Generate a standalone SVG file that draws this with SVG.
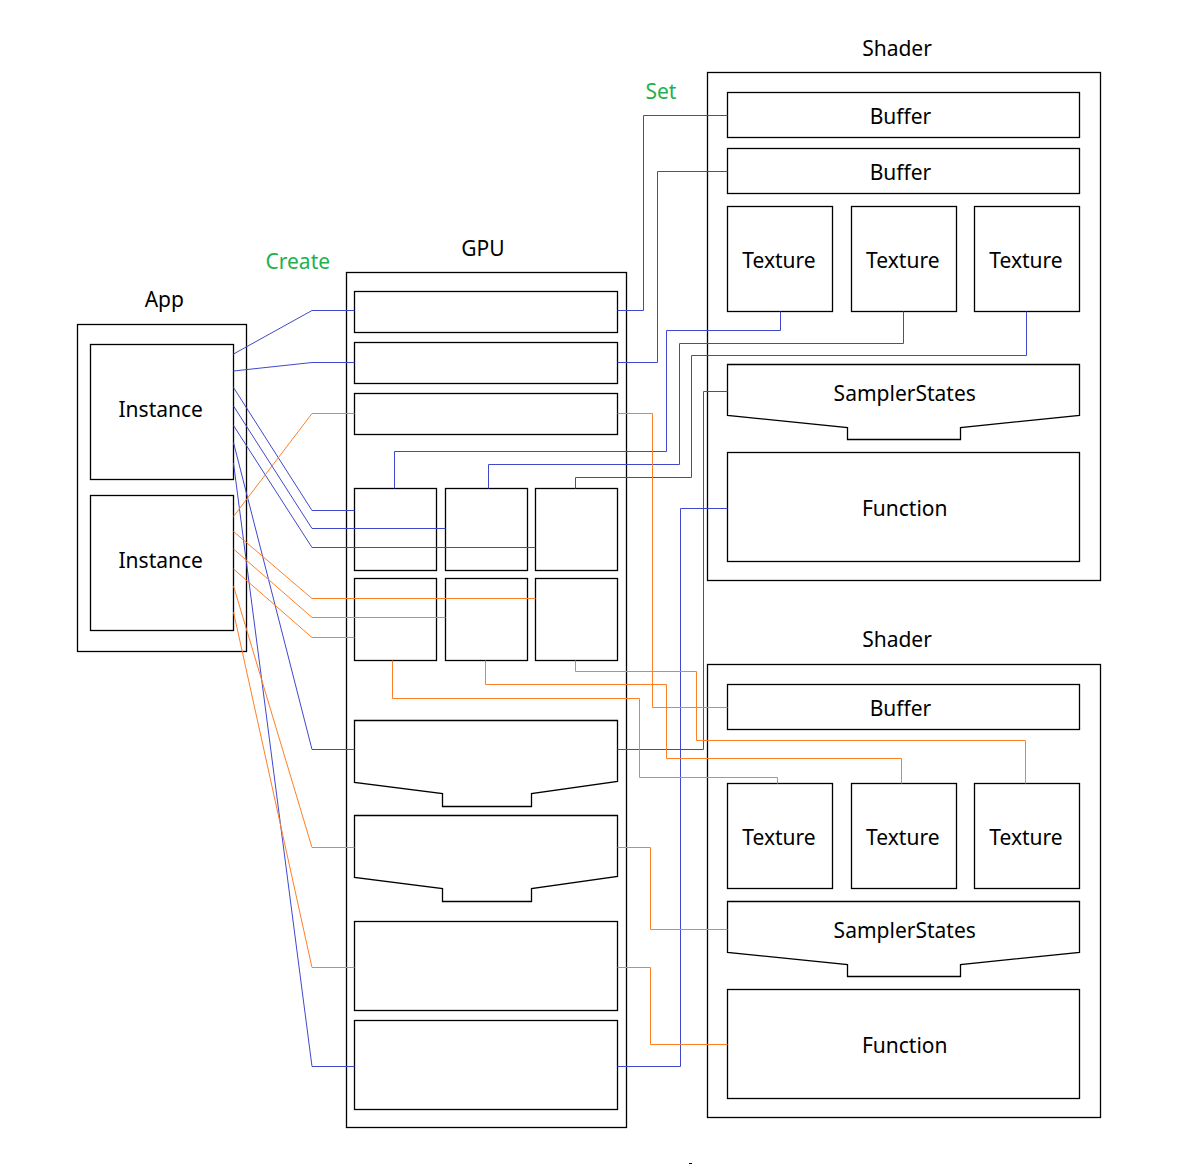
<svg xmlns="http://www.w3.org/2000/svg" width="1191" height="1173" viewBox="0 0 1191 1173">
<style>
.box{fill:#fff;stroke:#000;stroke-width:1.3}
.cont{fill:none;stroke:#000;stroke-width:1.3}
.t{font-family:"Noto Sans","Liberation Sans",sans-serif;font-size:21px;fill:#000;text-anchor:middle}
.g{font-family:"Noto Sans","Liberation Sans",sans-serif;font-size:21px;fill:#22b14c}
.b{fill:none;stroke:#3f48cc;stroke-width:1}
.o{fill:none;stroke:#ff7f27;stroke-width:1}
</style>
<rect width="1191" height="1173" fill="#fff"/>
<g id="labels">
<text class="g" x="265.5" y="269">Create</text>
<text class="g" x="645.5" y="99">Set</text>
</g>
<g id="app">
<text class="t" x="164.3" y="306.5">App</text>
<rect class="cont" x="77.5" y="324.5" width="169" height="327"/>
</g>
<g id="instance1"><rect class="box" x="90.5" y="344.5" width="143" height="135"/><text class="t" x="160.7" y="417.3">Instance</text></g>
<g id="instance2"><rect class="box" x="90.5" y="495.5" width="143" height="135"/><text class="t" x="160.7" y="568">Instance</text></g>
<g id="gpu">
<text class="t" x="483" y="255.5">GPU</text>
<rect class="cont" x="346.5" y="272.5" width="280" height="855"/>
</g>
<g id="gpu-b1"><rect class="box" x="354.5" y="291.5" width="263" height="41"/></g>
<g id="gpu-b2"><rect class="box" x="354.5" y="342.5" width="263" height="41"/></g>
<g id="gpu-b3"><rect class="box" x="354.5" y="393.5" width="263" height="41"/></g>
<g id="gpu-t1"><rect class="box" x="354.5" y="488.5" width="82" height="82"/></g>
<g id="gpu-t2"><rect class="box" x="445.5" y="488.5" width="82" height="82"/></g>
<g id="gpu-t3"><rect class="box" x="535.5" y="488.5" width="82" height="82"/></g>
<g id="gpu-t4"><rect class="box" x="354.5" y="578.5" width="82" height="82"/></g>
<g id="gpu-t5"><rect class="box" x="445.5" y="578.5" width="82" height="82"/></g>
<g id="gpu-t6"><rect class="box" x="535.5" y="578.5" width="82" height="82"/></g>
<g id="gpu-s1"><path class="box" d="M354.5,720.5 H617.5 V781.5 L531.5,793.5 V806.5 H442.5 V793.5 L354.5,782.5 Z"/></g>
<g id="gpu-s2"><path class="box" d="M354.5,815.5 H617.5 V876.5 L531.5,888.5 V901.5 H442.5 V888.5 L354.5,877.5 Z"/></g>
<g id="gpu-f1"><rect class="box" x="354.5" y="921.5" width="263" height="89"/></g>
<g id="gpu-f2"><rect class="box" x="354.5" y="1020.5" width="263" height="89"/></g>
<g id="shader1">
<text class="t" x="897" y="56">Shader</text>
<rect class="cont" x="707.5" y="72.5" width="393" height="508"/>
</g>
<g id="s1-buffer1"><rect class="box" x="727.5" y="92.5" width="352" height="45"/><text class="t" x="900.5" y="124">Buffer</text></g>
<g id="s1-buffer2"><rect class="box" x="727.5" y="148.5" width="352" height="45"/><text class="t" x="900.5" y="180">Buffer</text></g>
<g id="s1-tex1"><rect class="box" x="727.5" y="206.5" width="105" height="105"/><text class="t" x="779" y="267.5">Texture</text></g>
<g id="s1-tex2"><rect class="box" x="851.5" y="206.5" width="105" height="105"/><text class="t" x="902.8" y="267.5">Texture</text></g>
<g id="s1-tex3"><rect class="box" x="974.5" y="206.5" width="105" height="105"/><text class="t" x="1026" y="267.5">Texture</text></g>
<g id="s1-sampler"><path class="box" d="M727.5,364.5 H1079.5 V415.5 L960.5,427.5 V439.5 H847.5 V427.5 L727.5,415.5 Z"/><text class="t" x="904.7" y="401">SamplerStates</text></g>
<g id="s1-function"><rect class="box" x="727.5" y="452.5" width="352" height="109"/><text class="t" x="904.7" y="515.5">Function</text></g>
<g id="shader2">
<text class="t" x="897" y="647">Shader</text>
<rect class="cont" x="707.5" y="664.5" width="393" height="453"/>
</g>
<g id="s2-buffer"><rect class="box" x="727.5" y="684.5" width="352" height="45"/><text class="t" x="900.5" y="716">Buffer</text></g>
<g id="s2-tex1"><rect class="box" x="727.5" y="783.5" width="105" height="105"/><text class="t" x="779" y="844.5">Texture</text></g>
<g id="s2-tex2"><rect class="box" x="851.5" y="783.5" width="105" height="105"/><text class="t" x="902.8" y="844.5">Texture</text></g>
<g id="s2-tex3"><rect class="box" x="974.5" y="783.5" width="105" height="105"/><text class="t" x="1026" y="844.5">Texture</text></g>
<g id="s2-sampler"><path class="box" d="M727.5,901.5 H1079.5 V952.5 L960.5,964.5 V976.5 H847.5 V964.5 L727.5,952.5 Z"/><text class="t" x="904.7" y="937.5">SamplerStates</text></g>
<g id="s2-function"><rect class="box" x="727.5" y="989.5" width="352" height="109"/><text class="t" x="904.7" y="1052.5">Function</text></g>
<g id="connectors">
<polyline class="b" points="233.5,354 312,310.5 354.5,310.5"/>
<polyline class="b" points="233.5,371 312,362.5 354.5,362.5"/>
<polyline class="b" points="233.5,387.5 312,510.5 354.5,510.5"/>
<polyline class="b" points="233.5,406 312,528.5 445.5,528.5"/>
<polyline class="b" points="233.5,425.5 312,547.5 535.5,547.5"/>
<polyline class="b" points="233.5,442.5 312,749.5 354.5,749.5"/>
<polyline class="b" points="233.5,463 312,1066.5 354.5,1066.5"/>
<polyline class="o" points="233.5,516.5 312,413.5 354.5,413.5"/>
<polyline class="o" points="233.5,531.5 312,598.5 535.5,598.5"/>
<polyline class="o" points="233.5,549 312,617.5 445.5,617.5"/>
<polyline class="o" points="233.5,569 312,637.5 354.5,637.5"/>
<polyline class="o" points="233.5,586 312,847.5 354.5,847.5"/>
<polyline class="o" points="233.5,612 312,967.5 354.5,967.5"/>
<polyline class="b" points="617.5,310.5 643.5,310.5 643.5,115.5 727.5,115.5"/>
<polyline class="b" points="617.5,362.5 657.5,362.5 657.5,171.5 727.5,171.5"/>
<polyline class="b" points="394.5,488.5 394.5,451.5 666.5,451.5 666.5,330.5 780.5,330.5 780.5,311.5"/>
<polyline class="b" points="488.5,488.5 488.5,464.5 679.5,464.5 679.5,343.5 903.5,343.5 903.5,311.5"/>
<polyline class="b" points="575.5,488.5 575.5,477.5 691.5,477.5 691.5,355.5 1026.5,355.5 1026.5,311.5"/>
<polyline class="b" points="727.5,391.5 703.5,391.5 703.5,749.5 617.5,749.5"/>
<polyline class="b" points="727.5,508.5 680.5,508.5 680.5,1066.5 617.5,1066.5"/>
<polyline class="o" points="617.5,413.5 652.5,413.5 652.5,707.5 727.5,707.5"/>
<polyline class="o" points="575.5,660.5 575.5,671.5 696.5,671.5 696.5,740.5 1025.5,740.5 1025.5,783.5"/>
<polyline class="o" points="485.5,660.5 485.5,684.5 666.5,684.5 666.5,758.5 901.5,758.5 901.5,783.5"/>
<polyline class="o" points="392.5,660.5 392.5,698.5 639.5,698.5 639.5,777.5 777.5,777.5 777.5,783.5"/>
<polyline class="o" points="617.5,847.5 650.5,847.5 650.5,929.5 727.5,929.5"/>
<polyline class="o" points="617.5,967.5 650.5,967.5 650.5,1044.5 727.5,1044.5"/>
</g>
<line x1="689" y1="1163.5" x2="692" y2="1163.5" stroke="#000" stroke-width="1"/>
</svg>
